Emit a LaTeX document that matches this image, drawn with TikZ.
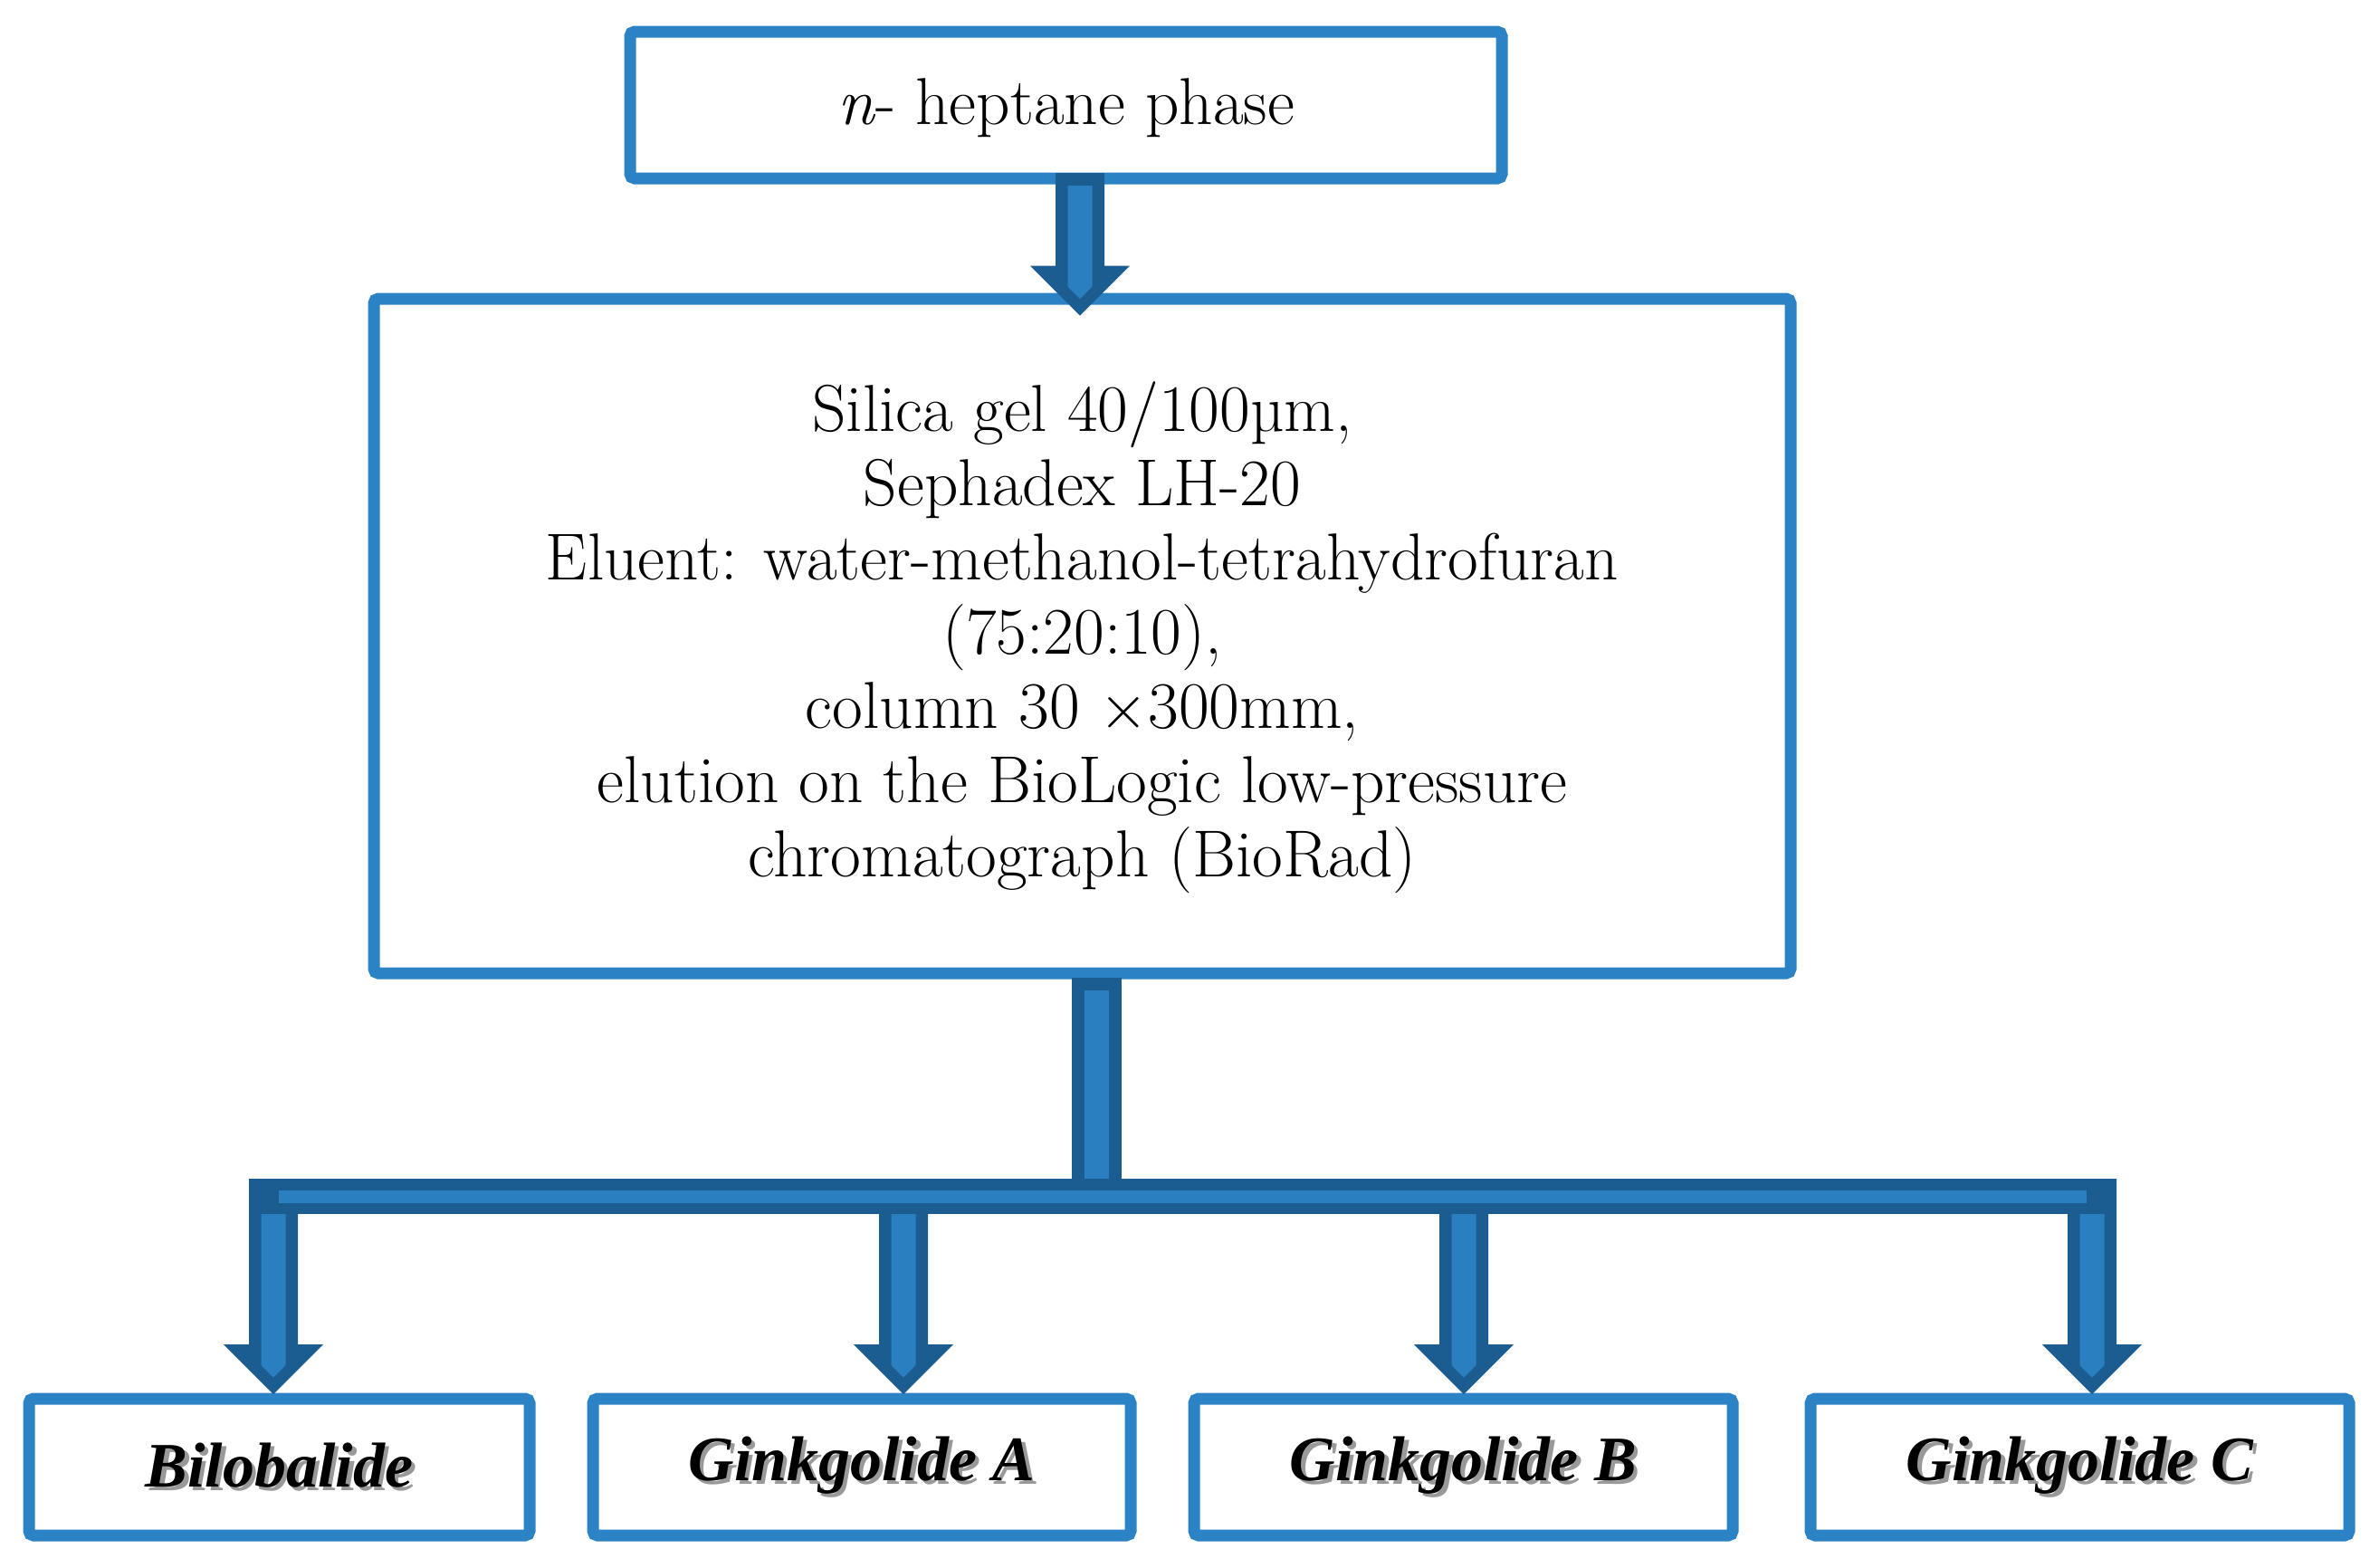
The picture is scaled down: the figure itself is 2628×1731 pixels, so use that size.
\documentclass[tikz,border=0pt]{standalone}
\usepackage{fontspec}
\newfontfamily\lblfont{Liberation Serif}
\usetikzlibrary{calc}
\definecolor{boxblue}{RGB}{43,131,197}
\definecolor{arrdark}{RGB}{28,93,145}
\definecolor{arrlight}{RGB}{42,127,193}
\newcommand\shtext[1]{\makebox[0pt][l]{\hspace{1.3pt}\raisebox{-1.3pt}{\textcolor{black!40}{#1}}}#1}
\newcommand\lowertxt[2]{\raisebox{-#1}[\dimexpr\height+#1\relax][\dimexpr\depth-#1\relax]{#2}}
% block arrow: #1 start coordinate (its y is used), #2 tip coordinate
\newcommand\blkarrow[2]{%
  \fill[arrdark] ($(#1 -| #2)+(-27,0)$) -- ($(#1 -| #2)+(27,0)$) -- ($(#2)+(27,-55)$) -- ($(#2)+(55,-55)$) -- (#2) -- ($(#2)+(-55,-55)$) -- ($(#2)+(-27,-55)$) -- cycle;
  \fill[arrlight] ($(#1 -| #2)+(-13.5,14)$) -- ($(#1 -| #2)+(13.5,14)$) -- ($(#2)+(13.5,-32)$) -- ($(#2)+(0,-18.5)$) -- ($(#2)+(-13.5,-32)$) -- cycle;
}
\begin{document}
\begin{tikzpicture}[x=0.3pt,y=-0.3pt,
  box/.style={draw=boxblue, line width=3.9pt, fill=white, rounded corners=1.5pt, inner sep=0pt, align=center},
  txt/.style={font=\fontsize{22}{24.6}\selectfont},
  lbl/.style={box, minimum height=45.3pt, font=\lblfont\bfseries\itshape\fontsize{21}{25}\selectfont}]
\useasboundingbox (0,0) rectangle (2628,1731);
\fill[white] (0,0) rectangle (2628,1731);
% boxes
\node[box, txt, minimum width=288.9pt, minimum height=48.6pt] (top) at (1177.5,116) {\lowertxt{0.5pt}{\textit{n}- heptane phase}};
\node[box, txt, minimum width=469.5pt, minimum height=223.5pt] (mid) at (1195.5,702.5)
  {\lowertxt{0.5pt}{\begin{tabular}{@{}c@{}}Silica gel 40/100\textmu m,\\ Sephadex LH-20\\ Eluent: water-methanol-tetrahydrofuran\\ (75:20:10),\\ column 30 $\times$300mm,\\ elution on the BioLogic low-pressure\\ chromatograph (BioRad)\end{tabular}}};
\node[lbl, minimum width=165.9pt] (bil) at (308.5,1620.5) {\shtext{Bilobalide}};
\node[lbl, minimum width=178.2pt] (gka) at (952,1620.5) {\shtext{Ginkgolide A}};
\node[lbl, minimum width=178.5pt] (gkb) at (1616.5,1620.5) {\shtext{Ginkgolide B}};
\node[lbl, minimum width=178.5pt] (gkc) at (2297.5,1620.5) {\shtext{Ginkgolide C}};
% top arrow
\coordinate (s1) at ($(top.south)+(15.5,-12.5)$);
\coordinate (t1) at ($(mid.north)+(-2.5,25)$);
\blkarrow{s1}{t1}
% stem
\coordinate (stemtop) at ($(mid.south)+(15.5,-2)$);
\coordinate (barL) at (275,1302);
\coordinate (barR) at (2338,1341);
\fill[arrdark] ($(stemtop)+(-27.5,0)$) rectangle ($(stemtop |- barR)+(27.5,-24)$);
\fill[arrlight] ($(stemtop)+(-13.5,14)$) rectangle ($(stemtop |- barL)+(13.5,0)$);
% arms
\coordinate (ta) at ($(bil.north)+(-6.5,1.5)$);
\coordinate (tb) at ($(gka.north)+(46,1.5)$);
\coordinate (tc) at ($(gkb.north)+(0.5,1.5)$);
\coordinate (td) at ($(gkc.north)+(13.5,1.5)$);
\blkarrow{barL}{ta}
\blkarrow{barL}{tb}
\blkarrow{barL}{tc}
\blkarrow{barL}{td}
% bar
\fill[arrdark] (barL) rectangle (barR);
\fill[arrlight] ($(barL)+(33,13)$) rectangle ($(barR)+(-33,-12)$);
\end{tikzpicture}
\end{document}
